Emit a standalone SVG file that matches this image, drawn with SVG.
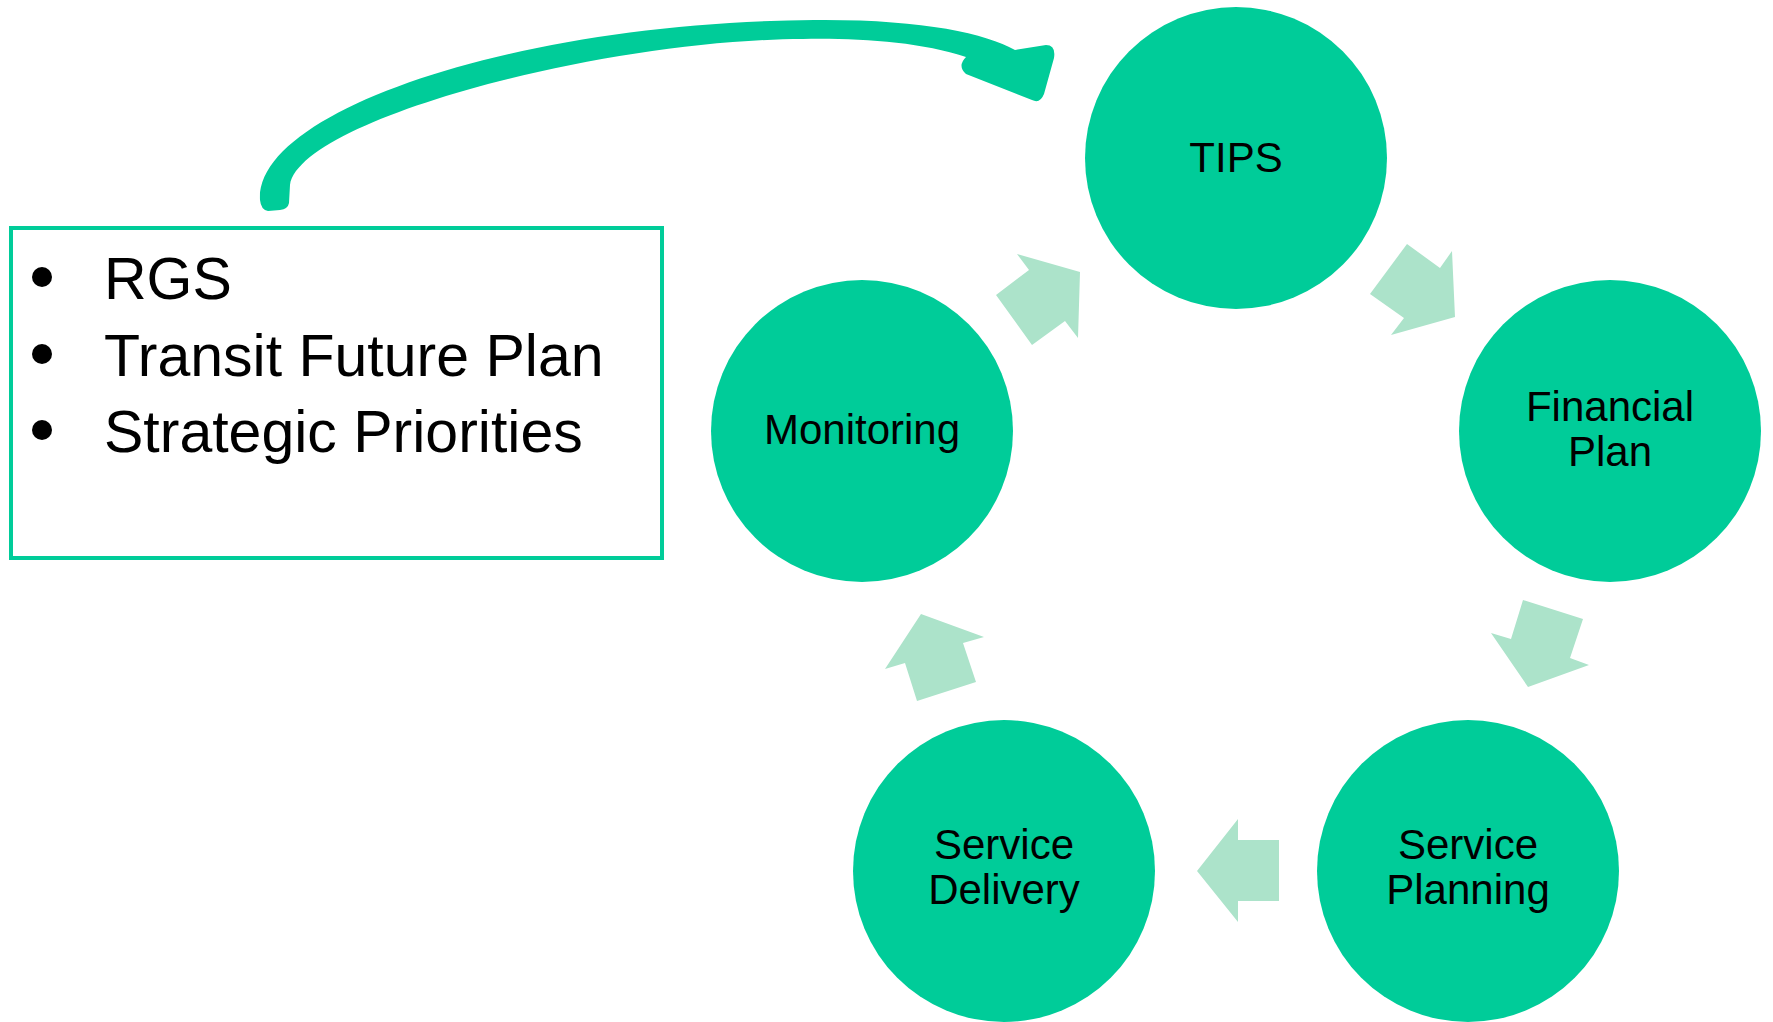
<svg xmlns="http://www.w3.org/2000/svg" width="1773" height="1022" viewBox="0 0 1773 1022">
<style>
.node{fill:#00CC99}
.lbl{font-family:"Liberation Sans",Arial,sans-serif;font-size:42px;fill:#000;text-anchor:middle}
.flow{fill:#ACE3CA}
.list{font-family:"Liberation Sans",Arial,sans-serif;font-size:59px;fill:#000}
</style>
<rect width="1773" height="1022" fill="#fff"/>
<g id="connectors">
<polygon class="flow" points="1407,244 1440,268 1452,251 1455,317 1391,335 1404,318 1370,294"/>
<polygon class="flow" points="1523,600 1583,619 1570,658 1589,665 1528,687 1491,633 1511,639"/>
<polygon class="flow" points="1197,871 1238,819 1238,840 1279,840 1279,901 1238,901 1238,922"/>
<polygon class="flow" points="921,614 984,637 963,643 976,682 917,701 905,663 885,669"/>
<polygon class="flow" points="1017,254 1080,272 1078,338 1065,321 1032,345 996,295 1029,270"/>
<path id="curve-arrow" fill="#00CC99" d="M260,200 C255,110 520,22 814,20 C920,19 985,33 1015,50 L1046,45 Q1056,45 1054,58 L1044,94 Q1040,104 1032,100 L966,74 Q957,66 966,57 C920,42 860,38 803,39 C600,40 300,120 290,185 L289,203 Q288,209 280,210 L268,211 Q261,210 260,200 Z"/>
</g>
<g id="source-box">
<rect x="11" y="228" width="651" height="330" fill="none" stroke="#00CC99" stroke-width="4"/>
<circle cx="42" cy="277" r="10" fill="#000"/>
<circle cx="42" cy="354" r="10" fill="#000"/>
<circle cx="42" cy="430" r="10" fill="#000"/>
<text class="list" x="104" y="299">RGS</text>
<text class="list" x="104" y="376">Transit Future Plan</text>
<text class="list" x="104" y="452">Strategic Priorities</text>
</g>
<g id="tips">
<circle class="node" cx="1236" cy="158" r="151"/>
<text class="lbl" x="1236" y="172">TIPS</text>
</g>
<g id="financial-plan">
<circle class="node" cx="1610" cy="431" r="151"/>
<text class="lbl" x="1610" y="421">Financial</text>
<text class="lbl" x="1610" y="466">Plan</text>
</g>
<g id="service-planning">
<circle class="node" cx="1468" cy="871" r="151"/>
<text class="lbl" x="1468" y="859">Service</text>
<text class="lbl" x="1468" y="904">Planning</text>
</g>
<g id="service-delivery">
<circle class="node" cx="1004" cy="871" r="151"/>
<text class="lbl" x="1004" y="859">Service</text>
<text class="lbl" x="1004" y="904">Delivery</text>
</g>
<g id="monitoring">
<circle class="node" cx="862" cy="431" r="151"/>
<text class="lbl" x="862" y="444">Monitoring</text>
</g>
</svg>
